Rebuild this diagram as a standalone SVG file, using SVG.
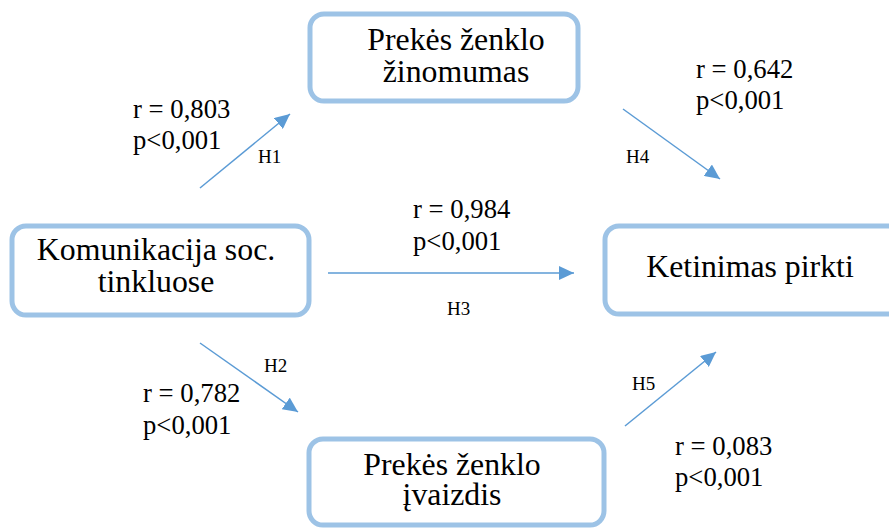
<svg xmlns="http://www.w3.org/2000/svg" width="889" height="529" viewBox="0 0 889 529">
  <defs>
    <marker id="arrowhead" markerUnits="userSpaceOnUse" markerWidth="16" markerHeight="14" refX="15" refY="7" orient="auto">
      <path d="M0,0 L15,7 L0,14 Z" fill="#5B9BD5"/>
    </marker>
  </defs>
  <style>
    .box { fill: #FFFFFF; stroke: #9DC3E6; stroke-width: 5; }
    text { font-family: 'Liberation Serif', 'Times New Roman', serif; fill: #000000; }
    .node-text { font-size: 31.8px; text-anchor: middle; }
    .stat { font-size: 26.7px; }
    .hyp { font-size: 19px; }
    .link { stroke: #5B9BD5; stroke-width: 1.5; fill: none; marker-end: url(#arrowhead); }
  </style>
  <rect width="889" height="529" fill="#FFFFFF"/>

  <!-- connectors -->
  <g id="connectors">
    <line class="link" x1="200" y1="188" x2="290" y2="114"/>
    <line class="link" x1="200" y1="343" x2="298" y2="412"/>
    <line class="link" x1="328" y1="273" x2="574" y2="273"/>
    <line class="link" x1="623" y1="109" x2="720" y2="179"/>
    <line class="link" x1="625" y1="426" x2="716" y2="352"/>
  </g>

  <!-- nodes -->
  <g id="node-zinomumas">
    <rect class="box" x="310" y="14" width="268" height="87" rx="14"/>
    <text class="node-text" x="456" y="50">Prekės ženklo</text>
    <text class="node-text" x="456" y="82">žinomumas</text>
  </g>
  <g id="node-komunikacija">
    <rect class="box" x="12" y="226" width="297" height="89" rx="14"/>
    <text class="node-text" x="156" y="260">Komunikacija soc.</text>
    <text class="node-text" x="156" y="292">tinkluose</text>
  </g>
  <g id="node-ketinimas">
    <rect class="box" x="605" y="226" width="300" height="88" rx="14"/>
    <text class="node-text" x="750" y="277">Ketinimas pirkti</text>
  </g>
  <g id="node-ivaizdis">
    <rect class="box" x="309" y="439" width="295" height="86" rx="14"/>
    <text class="node-text" x="452" y="475">Prekės ženklo</text>
    <text class="node-text" x="452" y="505">įvaizdis</text>
  </g>

  <!-- statistics and hypothesis labels -->
  <g id="labels">
    <text class="stat" x="133" y="118">r = 0,803</text>
    <text class="stat" x="133" y="149">p&lt;0,001</text>
    <text class="hyp" x="258" y="163">H1</text>

    <text class="stat" x="696" y="78">r = 0,642</text>
    <text class="stat" x="696" y="109">p&lt;0,001</text>
    <text class="hyp" x="626" y="163">H4</text>

    <text class="stat" x="413" y="218">r = 0,984</text>
    <text class="stat" x="413" y="250">p&lt;0,001</text>
    <text class="hyp" x="447" y="315">H3</text>

    <text class="hyp" x="264" y="372">H2</text>
    <text class="stat" x="143" y="402">r = 0,782</text>
    <text class="stat" x="143" y="434">p&lt;0,001</text>

    <text class="hyp" x="632" y="390">H5</text>
    <text class="stat" x="675" y="455">r = 0,083</text>
    <text class="stat" x="675" y="486">p&lt;0,001</text>
  </g>
</svg>
